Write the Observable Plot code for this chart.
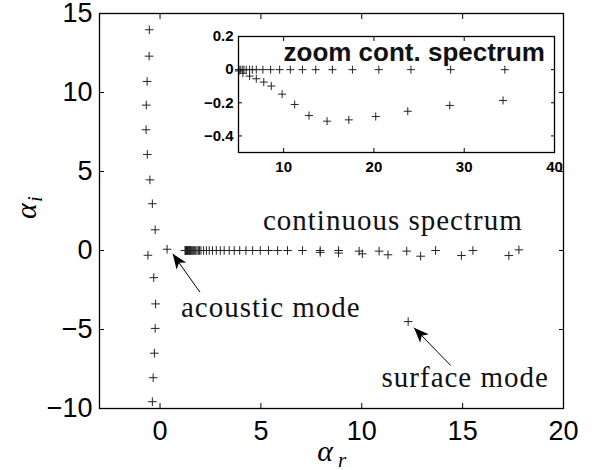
<!DOCTYPE html>
<html>
<head>
<meta charset="utf-8">
<script src="https://cdn.jsdelivr.net/npm/d3@7"></script>
<script src="https://cdn.jsdelivr.net/npm/@observablehq/plot@0.6"></script>
<style>
  body { margin: 0; background: #fff; }
  #chart { position: relative; width: 596px; height: 470px; }
  #chart > svg { position: absolute; left: 0; top: 0; }
  #chart > svg.inset { left: 190px; top: 30px; }
</style>
</head>
<body>
<div id="chart"></div>
<script>
// Eigenvalue spectrum in the complex wavenumber plane (alpha_r, alpha_i)

// discrete modes along the imaginary axis
const branchR = [-0.53, -0.54, -0.64, -0.68, -0.69, -0.63, -0.5, -0.38, -0.24, -0.6, -0.31, -0.22, -0.24, -0.28, -0.34, -0.38];
const branchI = [13.97, 12.3, 10.7, 9.2, 7.64, 6.08, 4.47, 2.96, 1.31, -0.3, -1.72, -3.38, -4.93, -6.5, -8.05, -9.57];

// acoustic and surface modes
const acousticR = [0.35];
const acousticI = [0.08];
const surfaceR = [12.3];
const surfaceI = [-4.5];

// continuous spectrum, neutral row
const contR = [1.24, 1.26, 1.28, 1.30, 1.32, 1.34, 1.36, 1.38, 1.40, 1.43, 1.46, 1.49, 1.52, 1.55, 1.59, 1.63,
  1.67, 1.72, 1.77, 1.83, 1.9, 1.96, 2.03, 2.16, 2.3, 2.44, 2.6, 2.79, 2.99, 3.18, 3.43, 3.68, 3.95, 4.26,
  4.59, 4.97, 5.38, 5.83, 6.32, 7.06, 7.94, 8.85, 9.87, 10.86, 12.23, 13.66, 15.51, 17.79];
const contI = [0, 0, 0, 0, 0, 0, 0, 0, 0, 0, 0, 0, 0, 0, 0, 0,
  0, 0, 0, 0, 0, 0, 0, 0, 0, 0, 0, 0, 0, 0, 0, 0, 0, 0,
  0, 0, 0, 0, 0, 0, 0, 0, -0.04, -0.04, -0.04, 0, 0, 0.04];

// continuous spectrum, damped row
const dampR = [7.94, 8.85, 10.03, 11.3, 12.92, 14.94, 17.29];
const dampI = [-0.12, -0.16, -0.21, -0.27, -0.36, -0.32, -0.32];

// zoomed continuous spectrum (inset)
const zoomTopX = [5.04, 5.2, 5.42, 5.6, 5.86, 6.23, 6.53, 6.97, 7.7, 8.56, 9.56, 10.74, 12.08, 13.55, 15.4, 17.62, 20.54, 24.1, 28.5, 34.5];
const zoomTopY = [0, 0, 0, 0, 0, 0, 0, 0, 0, 0, 0, 0, 0, 0, 0, 0, 0, 0, 0, 0];
const zoomLowX = [5.04, 5.49, 6.23, 6.97, 7.8, 8.63, 9.83, 11.22, 12.81, 14.81, 17.22, 20.2, 23.75, 28.4, 34.3];
const zoomLowY = [-0.008, -0.022, -0.039, -0.055, -0.075, -0.099, -0.148, -0.21, -0.277, -0.311, -0.303, -0.283, -0.251, -0.216, -0.186];

// axis ticks
const xTicks = [0, 5, 10, 15, 20];
const yTicks = [-10, -5, 0, 5, 10, 15];
const zxTicks = [10, 20, 30, 40];
const zyTicks = [-0.4, -0.2, 0, 0.2];

// annotations: label text and arrow from label to mode
const notes = [
  {text: "continuous spectrum", x: 5.1, y: 1.27},
  {text: "acoustic mode", x: 1.04, y: -4.18},
  {text: "surface mode", x: 10.98, y: -8.65}
];
const arrows = [
  {x1: 1.98, y1: -2.64, x2: 0.63, y2: -0.21},
  {x1: 14.41, y1: -7.28, x2: 12.59, y2: -4.89}
];

const zip = (xs, ys) => xs.map((x, i) => ({x, y: ys[i]}));

// thin "+" marker
const plus = {
  draw(ctx, size) {
    const r = Math.sqrt(size / Math.PI);
    ctx.moveTo(-r, 0); ctx.lineTo(r, 0);
    ctx.moveTo(0, -r); ctx.lineTo(0, r);
  }
};
const pts = (data, r = 4.3) => Plot.dot(data, {x: "x", y: "y", symbol: plus, r, fill: "none", stroke: "#222", strokeWidth: 1});

const sans = "Liberation Sans, Arial, Helvetica, sans-serif";
const serif = "Liberation Serif, Times New Roman, serif";
const blank = () => "";
// plain decimals with a true minus sign: 0.2, 0, −0.2
const dec = (d) => (d < 0 ? "\u2212" : "") + String(Math.abs(d));

const main = Plot.plot({
  width: 596, height: 470,
  marginLeft: 99, marginRight: 33, marginTop: 13, marginBottom: 62,
  style: {fontFamily: sans, color: "#000", background: "white", overflow: "visible"},
  x: {domain: [-3, 20]},
  y: {domain: [-10, 15]},
  marks: [
    pts(zip(branchR, branchI)),
    pts(zip(acousticR, acousticI)),
    pts(zip(surfaceR, surfaceI)),
    pts(zip(contR, contI)),
    pts(zip(dampR, dampI)),
    Plot.link(arrows, {x1: "x1", y1: "y1", x2: "x2", y2: "y2", stroke: "#000", strokeWidth: 1, markerEnd: "arrow"}),
    Plot.text(notes, {x: "x", y: "y", text: "text", textAnchor: "start", lineAnchor: "bottom", fontFamily: serif, fontSize: 29, fill: "#111"}),
    // tick labels
    Plot.axisX({ticks: xTicks, tickSize: 0, tickPadding: 12, fontSize: 27, tickFormat: dec, label: null}),
    Plot.axisY({ticks: yTicks, tickSize: 0, tickPadding: 7, fontSize: 27, tickFormat: dec, label: null}),
    // inward ticks on all four sides
    Plot.axisX({anchor: "bottom", ticks: xTicks, tickSize: -5, tickFormat: blank, label: null}),
    Plot.axisX({anchor: "top", ticks: xTicks, tickSize: -5, tickFormat: blank, label: null}),
    Plot.axisY({anchor: "left", ticks: yTicks, tickSize: -5, tickFormat: blank, label: null}),
    Plot.axisY({anchor: "right", ticks: yTicks, tickSize: -5, tickFormat: blank, label: null}),
    Plot.frame({stroke: "#000", strokeWidth: 1.3}),
    // axis titles: alpha_r and alpha_i
    Plot.text(["α"], {frameAnchor: "bottom", dx: -6, dy: 52, fontFamily: serif, fontStyle: "italic", fontSize: 30, lineAnchor: "bottom"}),
    Plot.text(["r"], {frameAnchor: "bottom", dx: 11, dy: 58, fontFamily: serif, fontStyle: "italic", fontSize: 21, lineAnchor: "bottom"}),
    Plot.text(["α"], {frameAnchor: "left", dx: -64, dy: 8, rotate: -90, fontFamily: serif, fontStyle: "italic", fontSize: 30, lineAnchor: "bottom"}),
    Plot.text(["i"], {frameAnchor: "left", dx: -58, dy: -9, rotate: -90, fontFamily: serif, fontStyle: "italic", fontSize: 21, lineAnchor: "bottom"})
  ]
});

// filled arrowheads
main.querySelectorAll("marker").forEach((m) => {
  m.setAttribute("viewBox", "-16 -7 17 14");
  m.setAttribute("markerWidth", 17);
  m.setAttribute("markerHeight", 14);
  m.setAttribute("markerUnits", "userSpaceOnUse");
  m.setAttribute("refX", 0);
  m.setAttribute("refY", 0);
  m.setAttribute("orient", "auto");
  while (m.firstChild) m.removeChild(m.firstChild);
  const p = document.createElementNS("http://www.w3.org/2000/svg", "path");
  p.setAttribute("d", "M0,0L-15,-6L-11,0L-15,6Z");
  p.setAttribute("fill", "#000");
  p.setAttribute("stroke", "none");
  m.appendChild(p);
});
// slightly looser tracking for the serif annotations
main.querySelectorAll("g[font-family^='Liberation Serif'] text").forEach((t) => t.setAttribute("letter-spacing", "1"));

const inset = Plot.plot({
  width: 380, height: 150,
  marginLeft: 48, marginRight: 16, marginTop: 6, marginBottom: 28,
  style: {fontFamily: sans, fontWeight: "bold", color: "#000", background: "transparent", overflow: "visible"},
  x: {domain: [5, 40]},
  y: {domain: [-0.5, 0.2]},
  marks: [
    Plot.frame({fill: "white", stroke: "none"}),
    pts(zip(zoomTopX, zoomTopY), 4),
    pts(zip(zoomLowX, zoomLowY), 4),
    Plot.axisX({ticks: zxTicks, tickSize: 0, tickPadding: 9, fontSize: 15, fontWeight: "bold", tickFormat: dec, label: null}),
    Plot.axisY({ticks: zyTicks, tickSize: 0, tickPadding: 5, fontSize: 15, fontWeight: "bold", tickFormat: dec, label: null}),
    Plot.axisX({anchor: "bottom", ticks: zxTicks, tickSize: -4, tickFormat: blank, label: null}),
    Plot.axisX({anchor: "top", ticks: zxTicks, tickSize: -4, tickFormat: blank, label: null}),
    Plot.axisY({anchor: "left", ticks: zyTicks, tickSize: -4, tickFormat: blank, label: null}),
    Plot.axisY({anchor: "right", ticks: zyTicks, tickSize: -4, tickFormat: blank, label: null}),
    Plot.text(["zoom cont. spectrum"], {frameAnchor: "top-left", dx: 45, dy: 24, textAnchor: "start", lineAnchor: "bottom", fontSize: 26, fontWeight: "bold", fill: "#111"}),
    Plot.frame({stroke: "#000", strokeWidth: 1.3})
  ]
});
inset.classList.add("inset");

const chart = document.getElementById("chart");
chart.appendChild(main);
chart.appendChild(inset);
</script>
</body>
</html>
